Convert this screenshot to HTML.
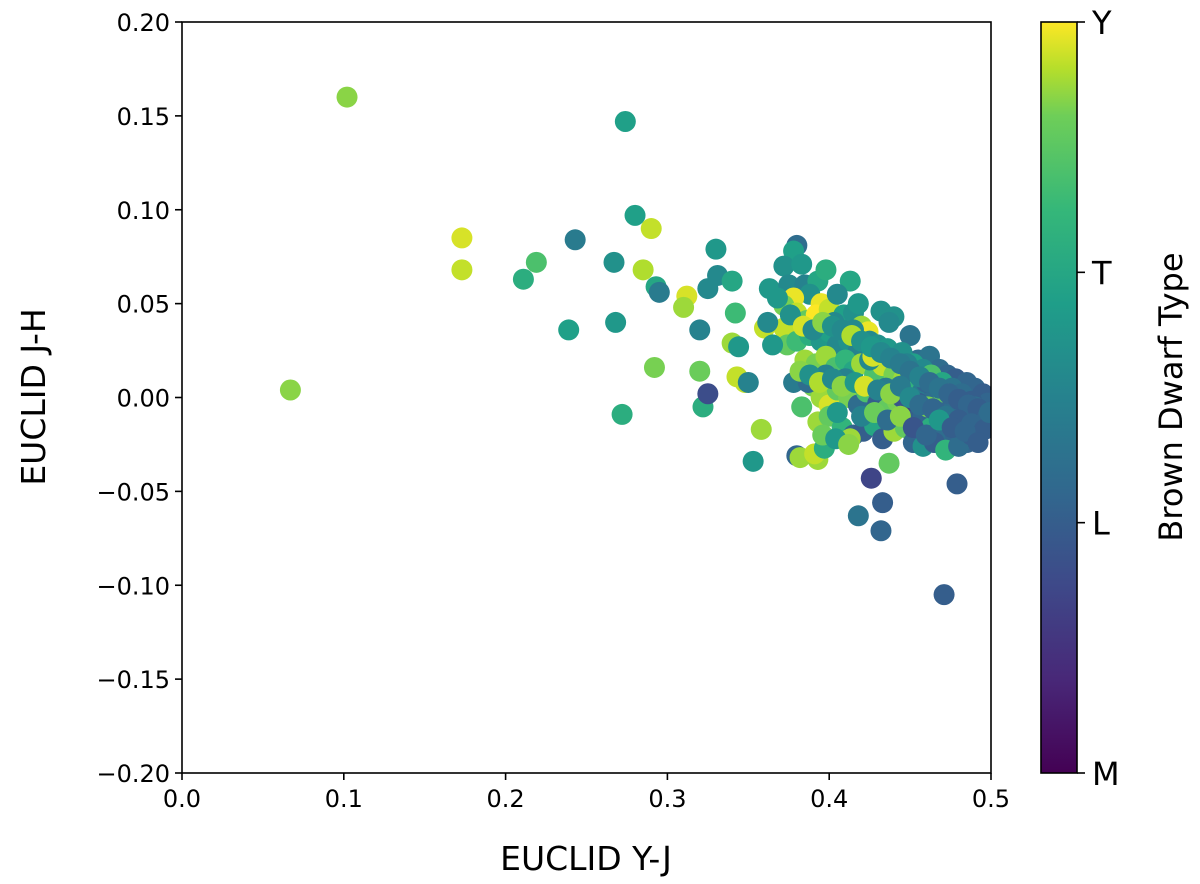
<!DOCTYPE html>
<html><head><meta charset="utf-8"><style>
body{margin:0;background:#fff;}
svg{display:block;font-family:"DejaVu Sans","Liberation Sans",sans-serif;}
</style></head><body>
<svg id="chart" width="1200" height="884" viewBox="0 0 1200 884" xmlns="http://www.w3.org/2000/svg">
<defs>
<clipPath id="plotclip"><rect x="182" y="22" width="809" height="751"/></clipPath>
<linearGradient id="viridis" x1="0" y1="1" x2="0" y2="0">
<stop offset="0" stop-color="#440154"/><stop offset="0.125" stop-color="#482878"/><stop offset="0.25" stop-color="#3e4989"/><stop offset="0.375" stop-color="#31688e"/><stop offset="0.5" stop-color="#26828e"/><stop offset="0.625" stop-color="#1f9e89"/><stop offset="0.75" stop-color="#35b779"/><stop offset="0.875" stop-color="#6ece58"/><stop offset="0.9375" stop-color="#b5de2b"/><stop offset="1" stop-color="#fde725"/>
</linearGradient>
</defs>
<g id="points" clip-path="url(#plotclip)"></g>
<rect x="182" y="22" width="809" height="751" fill="none" stroke="#000" stroke-width="1.6"/>
<g id="xticks"></g>
<g id="yticks"></g>
<text x="586" y="870" font-size="33" text-anchor="middle">EUCLID Y-J</text>
<text transform="translate(45,397) rotate(-90)" font-size="33" text-anchor="middle">EUCLID J-H</text>
<rect x="1041" y="22" width="36" height="751" fill="url(#viridis)" stroke="#000" stroke-width="1.6"/>
<g id="cbticks"></g>
<text transform="translate(1182,397) rotate(-90)" font-size="32" text-anchor="middle">Brown Dwarf Type</text>
</svg>
<script>
const xTicks=[0.0,0.1,0.2,0.3,0.4,0.5];
const xTickLabels=["0.0","0.1","0.2","0.3","0.4","0.5"];
const yTicks=[0.20,0.15,0.10,0.05,0.00,-0.05,-0.10,-0.15,-0.20];
const yTickLabels=["0.20","0.15","0.10","0.05","0.00","\u22120.05","\u22120.10","\u22120.15","\u22120.20"];
const cbTicks=[0,1,2,3];
const cbTickLabels=["M","L","T","Y"];
const ptX=[0.102,0.274,0.067,0.173,0.173,0.219,0.211,0.239,0.243,0.267,0.268,0.272,0.280,0.290,0.285,0.293,0.295,0.292,0.312,0.310,0.320,0.320,0.322,0.325,0.325,0.330,0.331,0.340,0.342,0.340,0.343,0.344,0.348,0.350,0.353,0.358,0.360,0.363,
0.380,0.378,0.372,0.383,0.375,0.385,0.393,0.398,0.388,0.395,0.378,0.372,0.368,0.380,0.386,0.392,0.400,0.409,0.413,0.405,0.415,0.420,0.424,0.432,0.440,0.437,0.450,0.455,0.462,0.468,0.473,0.478,0.485,0.490,0.495,0.498,
0.372,0.374,0.380,0.388,0.395,0.400,0.405,0.412,0.418,0.425,0.430,0.436,0.445,0.452,0.458,0.463,0.470,0.476,0.482,0.488,0.493,
0.385,0.392,0.398,0.404,0.410,0.415,0.420,0.428,0.433,0.440,0.446,0.452,0.458,0.465,0.470,0.477,0.484,0.490,
0.378,0.390,0.395,0.400,0.405,0.412,0.418,0.423,0.430,0.436,0.442,0.448,0.453,0.458,0.463,0.470,0.478,0.485,
0.383,0.393,0.400,0.408,0.415,0.421,0.428,0.433,0.440,0.447,0.452,0.458,0.465,0.472,0.480,0.488,
0.380,0.382,0.393,0.391,0.397,0.413,0.437,0.426,0.433,0.418,0.432,0.479,0.471,
0.410,0.425,0.435,0.445,0.455,0.460,0.470,0.475,0.490,0.495,0.398,0.403,0.418,0.427,0.405,0.448,0.461,0.415,0.387,0.365,0.362,
0.376,0.384,0.390,0.396,0.402,0.408,0.414,0.420,0.426,0.432,0.438,0.444,0.450,0.456,0.462,0.468,0.474,0.480,0.486,0.492,0.498,
0.382,0.388,0.394,0.402,0.408,0.416,0.422,0.430,0.438,0.444,0.450,0.456,0.464,0.472,0.480,0.488,0.496,
0.396,0.404,0.412,0.420,0.428,0.436,0.444,0.452,0.460,0.468,0.476,0.484,0.492,0.499];
const ptY=[0.160,0.147,0.004,0.085,0.068,0.072,0.063,0.036,0.084,0.072,0.040,-0.009,0.097,0.090,0.068,0.059,0.056,0.016,0.054,0.048,0.036,0.014,-0.005,0.002,0.058,0.079,0.065,0.062,0.045,0.029,0.011,0.027,0.008,0.008,-0.034,-0.017,0.037,0.058,
0.081,0.078,0.070,0.071,0.060,0.060,0.062,0.068,0.055,0.050,0.053,0.049,0.053,0.045,0.041,0.044,0.047,0.044,0.062,0.055,0.045,0.038,0.035,0.046,0.043,0.040,0.033,0.020,0.022,0.015,0.012,0.010,0.008,0.005,0.002,-0.003,
0.037,0.028,0.030,0.033,0.030,0.035,0.028,0.030,0.025,0.030,0.028,0.026,0.024,0.018,0.015,0.012,0.008,0.005,0.002,-0.002,-0.008,
0.020,0.018,0.022,0.016,0.020,0.014,0.018,0.012,0.017,0.012,0.010,0.006,0.004,0.002,-0.002,-0.006,-0.010,-0.015,
0.008,0.006,0.000,-0.004,0.004,0.000,-0.004,0.003,-0.003,-0.006,-0.002,-0.008,-0.012,-0.010,-0.016,-0.018,-0.020,-0.024,
-0.005,-0.013,-0.010,-0.016,-0.020,-0.018,-0.015,-0.022,-0.018,-0.016,-0.024,-0.026,-0.024,-0.028,-0.026,-0.020,
-0.031,-0.032,-0.033,-0.030,-0.027,-0.022,-0.035,-0.043,-0.056,-0.063,-0.071,-0.046,-0.105,
0.010,0.020,0.005,0.000,-0.003,0.008,0.003,-0.012,-0.005,-0.012,0.012,0.040,0.050,0.022,-0.008,0.018,-0.005,0.036,0.008,0.028,0.040,
0.044,0.038,0.036,0.040,0.038,0.036,0.033,0.030,0.027,0.024,0.021,0.018,0.014,0.011,0.008,0.005,0.002,-0.001,-0.004,-0.006,-0.010,
0.014,0.012,0.008,0.010,0.006,0.008,0.006,0.004,0.002,0.006,0.000,-0.004,-0.006,-0.010,-0.012,-0.014,-0.017,
-0.020,-0.022,-0.025,-0.010,-0.008,-0.012,-0.010,-0.016,-0.020,-0.012,-0.016,-0.018,-0.024,-0.008];
const ptType=[2.7,1.9,2.7,2.9,2.85,2.4,2.1,1.9,1.4,1.7,1.8,2.1,1.9,2.85,2.8,2.0,1.4,2.65,2.9,2.75,1.5,2.6,2.1,0.8,1.6,1.8,1.6,2.0,2.3,2.75,2.85,1.8,2.85,1.5,1.8,2.75,2.85,1.8,
1.2,1.9,1.7,1.8,1.6,1.5,2.0,2.1,1.7,2.95,2.95,2.65,1.8,2.85,2.55,3.0,2.85,1.9,2.0,1.6,1.7,2.75,2.95,1.7,1.7,1.6,1.3,1.2,1.3,1.2,1.1,1.0,1.1,1.1,1.0,1.1,
2.85,2.55,2.3,2.1,1.8,1.9,1.6,1.7,1.5,1.6,1.7,1.8,1.7,1.9,1.6,2.4,2.0,1.3,1.2,1.0,1.1,
2.75,2.65,2.75,2.4,2.2,2.0,2.75,2.4,2.85,2.65,2.75,2.2,1.4,1.2,1.1,1.2,1.1,1.3,
1.4,2.65,2.75,2.9,2.55,2.65,1.2,2.4,1.0,2.55,2.65,0.6,1.0,1.1,2.1,1.2,1.1,1.1,
2.4,2.75,2.55,2.2,1.1,1.0,2.0,1.0,2.75,2.55,1.1,1.7,1.0,2.2,1.2,1.0,
1.1,2.75,2.75,2.85,2.1,2.75,2.55,0.7,1.0,1.3,1.1,1.0,1.0,
1.5,1.6,1.4,0.9,1.0,1.1,2.55,1.0,1.2,1.0,1.5,1.6,1.8,2.9,1.8,1.5,2.65,1.6,1.2,1.8,1.6,
1.7,2.9,1.6,2.7,1.7,1.6,2.8,1.7,1.8,1.6,1.5,1.4,1.3,1.5,1.2,1.3,1.1,1.0,1.1,1.0,1.1,
2.7,1.7,2.8,1.6,2.7,1.8,2.9,1.5,2.7,1.4,1.6,1.2,1.1,1.3,1.0,1.1,1.0,
2.6,1.8,2.7,1.5,2.6,1.2,2.7,0.9,1.1,1.8,1.0,1.1,1.0,1.2];

const L=182,R=991,T=22,B=773;
function sx(v){return L+(v-0)/(0.5-0)*(R-L);}
function sy(v){return B-(v+0.2)/0.4*(B-T);}
function sc(v){return B-v/3*(B-T);}
const vstops=[[0,[68,1,84]],[0.125,[72,40,120]],[0.25,[62,73,137]],[0.375,[49,104,142]],[0.5,[38,130,142]],[0.625,[31,158,137]],[0.75,[53,183,121]],[0.875,[110,206,88]],[0.9375,[181,222,43]],[1,[253,231,37]]];
function viridis(t){t=Math.max(0,Math.min(1,t));for(let i=1;i<vstops.length;i++){if(t<=vstops[i][0]){const a=vstops[i-1],b=vstops[i];const f=(t-a[0])/(b[0]-a[0]);const c=a[1].map((x,k)=>Math.round(x+(b[1][k]-x)*f));return `rgb(${c[0]},${c[1]},${c[2]})`;}}return 'rgb(253,231,37)';}
const NS="http://www.w3.org/2000/svg";
function mk(tag,attrs,parent){const e=document.createElementNS(NS,tag);for(const k in attrs)e.setAttribute(k,attrs[k]);parent.appendChild(e);return e;}
const gp=document.getElementById('points');
for(let i=0;i<ptX.length;i++){
 const c=mk('circle',{cx:sx(ptX[i]),cy:sy(ptY[i]),r:10.5,fill:viridis(ptType[i]/3)},gp);
 
 
}
const gx=document.getElementById('xticks');
xTicks.forEach((v,i)=>{
 const l=mk('line',{x1:sx(v),x2:sx(v),y1:B,y2:B+7,stroke:'#000','stroke-width':1.6},gx);
 
 
 const t=mk('text',{x:sx(v),y:B+34,'font-size':24,'text-anchor':'middle'},gx);
 t.textContent=xTickLabels[i];
 
 
});
const gy=document.getElementById('yticks');
yTicks.forEach((v,i)=>{
 const l=mk('line',{x1:L-7,x2:L,y1:sy(v),y2:sy(v),stroke:'#000','stroke-width':1.6},gy);
 
 
 const t=mk('text',{x:L-12,y:sy(v)+9,'font-size':24,'text-anchor':'end'},gy);
 t.textContent=yTickLabels[i];
 
 
});
const gc=document.getElementById('cbticks');
cbTicks.forEach((v,i)=>{
 const l=mk('line',{x1:1077,x2:1085,y1:sc(v),y2:sc(v),stroke:'#000','stroke-width':1.6},gc);
 
 
 const t=mk('text',{x:1092,y:sc(v)+12,'font-size':32},gc);
 t.textContent=cbTickLabels[i];
 
 
});
</script>
</body></html>
